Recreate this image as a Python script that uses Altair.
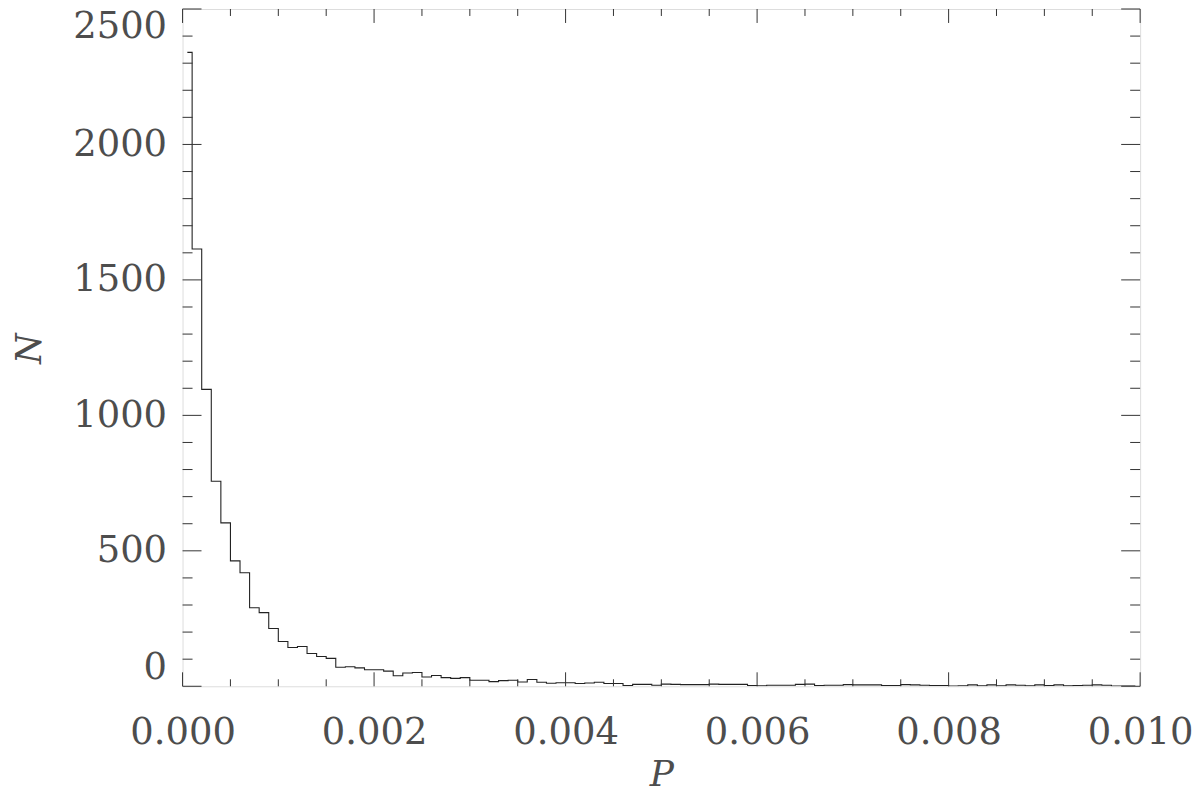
import altair as alt
import pandas as pd

# Histogram counts per bin (bin width 0.0001, 100 bins over 0..0.01)
counts = [
    2340, 1614, 1096, 757, 603, 463, 419, 290, 272, 213,
    165, 143, 147, 121, 110, 103, 70, 72, 68, 61,
    61, 56, 39, 49, 51, 34, 40, 32, 29, 32,
    22, 22, 17, 21, 22, 16, 25, 15, 11, 13,
    13, 10, 12, 15, 10, 10, 3, 7, 7, 4,
    8, 7, 6, 6, 6, 8, 7, 7, 7, 3,
    2, 4, 4, 4, 7, 8, 3, 4, 4, 6,
    5, 5, 5, 3, 3, 6, 5, 4, 3, 3,
    1, 2, 5, 2, 5, 2, 5, 4, 2, 5,
    3, 5, 2, 3, 4, 5, 4, 1, 1, 1,
]
bin_width = 0.0001
centers = [round(bin_width * (i + 0.5), 6) for i in range(len(counts))]

x_major = [0.000, 0.002, 0.004, 0.006, 0.008, 0.010]
x_minor = [0.0005, 0.001, 0.0015, 0.0025, 0.003, 0.0035, 0.0045, 0.005, 0.0055,
           0.0065, 0.007, 0.0075, 0.0085, 0.009, 0.0095]
y_major = [0, 500, 1000, 1500, 2000, 2500]
y_minor = [100, 200, 300, 400, 600, 700, 800, 900, 1100, 1200, 1300, 1400,
           1600, 1700, 1800, 1900, 2100, 2200, 2300, 2400]

W, H = 960, 679
FONT = "DejaVu Serif"
INK = "#333333"
TXT = "#4d4d4d"

xscale = alt.Scale(domain=[0, 0.01], nice=False, zero=False)
yscale = alt.Scale(domain=[0, 2500], nice=False)

xaxis = alt.Axis(
    values=x_major, format=".3f", ticks=False, tickSize=0, domain=False, grid=False,
    labelFont=FONT, labelFontSize=37, labelColor=TXT, labelPadding=28,
    labelFlush=False, labelOverlap=False,
    title="P", titleFont=FONT, titleFontStyle="italic", titleFontWeight="normal",
    titleFontSize=36, titleColor=TXT, titleX=480, titleY=88,
    titleBaseline="middle", titleAlign="center",
)
yaxis = alt.Axis(
    values=y_major, format="d", ticks=False, tickSize=0, domain=False, grid=False,
    labelFont=FONT, labelFontSize=37, labelColor=TXT, labelPadding=16,
    labelFlush=True, labelOverlap=False,
    title="N", titleFont=FONT, titleFontStyle="italic", titleFontWeight="normal",
    titleFontSize=35, titleColor=TXT, titleX=-153, titleY=340,
    titleBaseline="middle", titleAlign="center", titleAngle=270,
)

hist = pd.DataFrame({"P": centers, "N": counts})

line = alt.Chart(hist).mark_line(
    interpolate="step", color="#222222", strokeWidth=1.1, clip=True
).encode(
    x=alt.X("P:Q", scale=xscale, axis=xaxis),
    y=alt.Y("N:Q", scale=yscale, axis=yaxis),
)


def xticks(vals, y0, y1):
    return alt.Chart(pd.DataFrame({"P": vals})).mark_rule(
        color=INK, strokeWidth=1
    ).encode(
        x=alt.X("P:Q", scale=xscale, axis=xaxis),
        y=alt.value(y0), y2=alt.value(y1),
    )


def yticks(vals, x0, x1):
    return alt.Chart(pd.DataFrame({"N": vals})).mark_rule(
        color=INK, strokeWidth=1
    ).encode(
        y=alt.Y("N:Q", scale=yscale, axis=yaxis),
        x=alt.value(x0), x2=alt.value(x1),
    )


layers = [
    line,
    xticks(x_major, H, H - 14), xticks(x_major, 0, 14),
    xticks(x_minor, H, H - 7), xticks(x_minor, 0, 7),
    yticks(y_major, 0, 19), yticks(y_major, W - 19, W),
    yticks(y_minor, 0, 10), yticks(y_minor, W - 10, W),
]

chart = alt.layer(*layers).properties(
    width=W, height=H,
    autosize=alt.AutoSizeParams(type="none"),
    padding={"left": 175, "top": 0, "right": 52, "bottom": 106},
).configure_view(
    stroke=INK, strokeWidth=1
).configure(background="white")

chart.save("out.html", embed_options={"renderer": "svg", "actions": False})
